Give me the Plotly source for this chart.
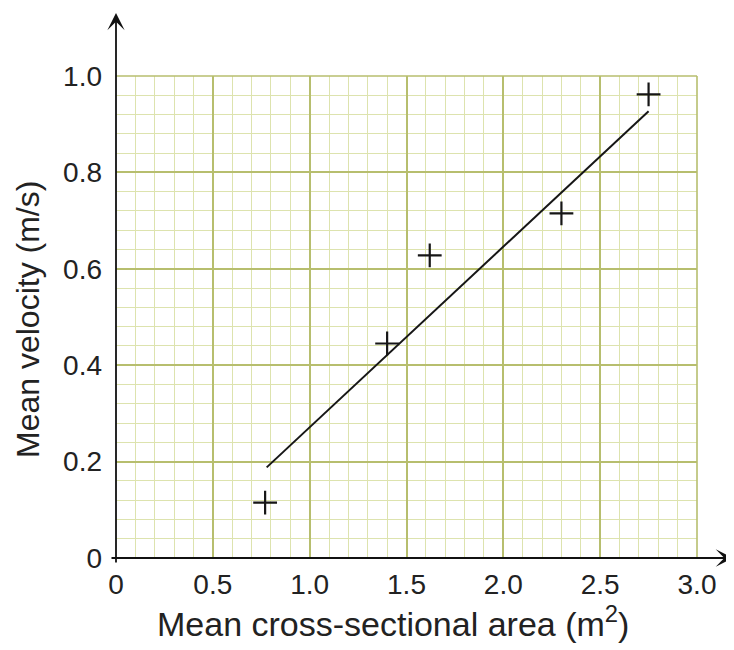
import plotly.graph_objects as go

# Data
area = [0.77, 1.40, 1.62, 2.30, 2.75]
velocity = [0.115, 0.445, 0.628, 0.715, 0.962]
fit_x = [0.778, 2.75]
fit_y = [0.188, 0.927]

x_tickvals = [0, 0.5, 1.0, 1.5, 2.0, 2.5, 3.0]
x_ticktext = ["0", "0.5", "1.0", "1.5", "2.0", "2.5", "3.0"]
y_tickvals = [0, 0.2, 0.4, 0.6, 0.8, 1.0]
y_ticktext = ["0", "0.2", "0.4", "0.6", "0.8", "1.0"]

x_title = "Mean cross-sectional area (m<sup>2</sup>)"
y_title = "Mean velocity (m/s)"

FONT = "Liberation Sans, Arial, sans-serif"
TXT = "#222222"
MAJOR = "#b7be6e"
MINOR = "#dde3ae"

# page offset (browser body margin) -> work in screen pixels, convert to figure
OFF = 8
W, H = 734, 650
# screen pixel positions of the plot area
SX0, SX1 = 116, 697
SY0, SY1 = 76, 558
L, T = SX0 - OFF, SY0 - OFF
pw, ph = SX1 - SX0, SY1 - SY0
R, B = W - L - pw, H - T - ph


def px_to_paper_x(sx):
    return (sx - SX0) / pw


def px_to_paper_y(sy):
    return (SY1 - sy) / ph


fig = go.Figure()
fig.add_trace(go.Scatter(x=fit_x, y=fit_y, mode="lines",
                         line=dict(color="#161616", width=2),
                         showlegend=False, hoverinfo="skip", cliponaxis=False))
fig.add_trace(go.Scatter(x=area, y=velocity, mode="markers",
                         marker=dict(symbol="cross-thin", size=17,
                                     line=dict(color="#161616", width=2.2)),
                         showlegend=False, cliponaxis=False))

fig.update_layout(
    width=W, height=H,
    margin=dict(l=L, r=R, t=T, b=B),
    paper_bgcolor="white", plot_bgcolor="white",
    font=dict(family=FONT, color=TXT),
    xaxis=dict(range=[0, 3.0], tickvals=x_tickvals, ticktext=x_ticktext,
               showgrid=True, gridcolor=MAJOR, gridwidth=1.6,
               minor=dict(dtick=0.1, tick0=0, showgrid=True, gridcolor=MINOR, gridwidth=1),
               zeroline=False, showline=False, ticks="",
               tickfont=dict(size=28, color=TXT, family=FONT),
               ticklabelstandoff=7, fixedrange=True),
    yaxis=dict(range=[0, 1.0], tickvals=y_tickvals, ticktext=y_ticktext,
               showgrid=True, gridcolor=MAJOR, gridwidth=1.6,
               minor=dict(dtick=0.04, tick0=0, showgrid=True, gridcolor=MINOR, gridwidth=1),
               zeroline=False, showline=False, ticks="",
               tickfont=dict(size=28, color=TXT, family=FONT),
               ticklabelstandoff=13, fixedrange=True),
)

# top and right border of grid paper
fig.add_shape(type="line", xref="paper", yref="paper", x0=0, x1=1, y0=1, y1=1,
              line=dict(color=MAJOR, width=1.6))
fig.add_shape(type="line", xref="paper", yref="paper", x0=1, x1=1, y0=0, y1=1,
              line=dict(color=MAJOR, width=1.6))

# y axis arrow: head at screen y=13, tail at screen y=564
fig.add_annotation(xref="paper", yref="paper", x=0, y=px_to_paper_y(13),
                   ax=0, ay=564 - 13, axref="pixel", ayref="pixel",
                   text="", showarrow=True, arrowhead=3, arrowsize=1.6,
                   arrowwidth=1.8, arrowcolor="#111111", standoff=0, startstandoff=0)
# x axis arrow: head at screen x=733, tail at x=110
fig.add_annotation(xref="paper", yref="paper", x=px_to_paper_x(733), y=0,
                   ax=-(733 - 110), ay=0, axref="pixel", ayref="pixel",
                   text="", showarrow=True, arrowhead=3, arrowsize=1.6,
                   arrowwidth=1.8, arrowcolor="#111111", standoff=0, startstandoff=0)

# axis titles
fig.add_annotation(xref="paper", yref="paper", x=px_to_paper_x(393), y=px_to_paper_y(621),
                   xanchor="center", yanchor="middle", text=x_title, showarrow=False,
                   font=dict(size=34, color=TXT, family=FONT))
fig.add_annotation(xref="paper", yref="paper", x=px_to_paper_x(28), y=px_to_paper_y(320),
                   xanchor="center", yanchor="middle", text=y_title, showarrow=False,
                   textangle=-90, font=dict(size=32, color=TXT, family=FONT))

fig.write_html("out.html")
